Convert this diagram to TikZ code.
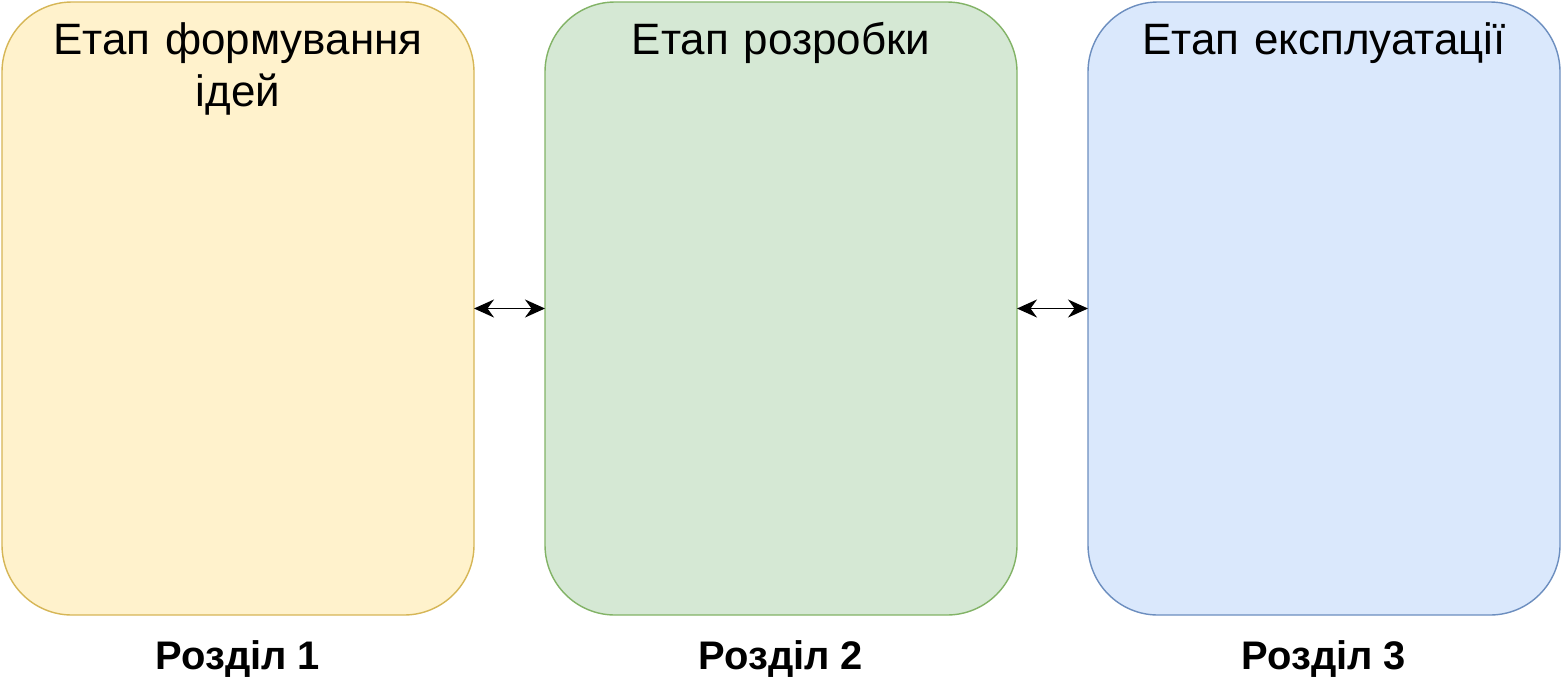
\documentclass[tikz,border=0pt]{standalone}
\usepackage{fontspec}
\setmainfont{Liberation Sans}
\usetikzlibrary{positioning,arrows.meta}

\begin{document}
\begin{tikzpicture}[
    node distance=1.42cm,
 stage/.style = {
        draw, rectangle, rounded corners=1.4cm, line width=0.8pt,
        minimum width=9.44cm, minimum height=12.26cm,
        inner sep=0pt, outer sep=0pt},
stagetitle/.style = {
        anchor=north, align=center, text width=9.2cm,
        font=\fontsize{25}{29.6}\selectfont, inner sep=0pt},
partlabel/.style = {
        font=\fontsize{22.7}{26}\selectfont\bfseries, inner sep=0pt},
     arrow/.style = {line width=1pt,{Stealth[length=4mm,width=3.6mm]}-{Stealth[length=4mm,width=3.6mm]}}
                    ]
\useasboundingbox (0,0) rectangle (31.26,-13.76);
% the three stages
\node (idea) [stage, fill={rgb,255:red,255;green,242;blue,204},
              draw={rgb,255:red,214;green,182;blue,86}]
              at (4.76,-6.17) {};
\node (dev)  [stage, fill={rgb,255:red,213;green,232;blue,212},
              draw={rgb,255:red,130;green,179;blue,102},
              right=of idea] {};
\node (ops)  [stage, fill={rgb,255:red,218;green,232;blue,252},
              draw={rgb,255:red,108;green,142;blue,191},
              right=of dev] {};
% titles inside
\node (ideat) [stagetitle, below=0.4cm of idea.north] {Етап формування\\ ідей};
\node (devt)  [stagetitle, below=0.4cm of dev.north]  {Етап розробки};
\node (opst)  [stagetitle, below=0.4cm of ops.north]  {Етап експлуатації};
% the labels below
\node (p1) [partlabel, below=0.5cm of idea] {Розділ 1};
\node (p2) [partlabel, below=0.5cm of dev]  {Розділ 2};
\node (p3) [partlabel, below=0.5cm of ops]  {Розділ 3};
% links
\draw[arrow] (idea) -- (dev);
\draw[arrow] (dev) -- (ops);
\end{tikzpicture}
\end{document}
